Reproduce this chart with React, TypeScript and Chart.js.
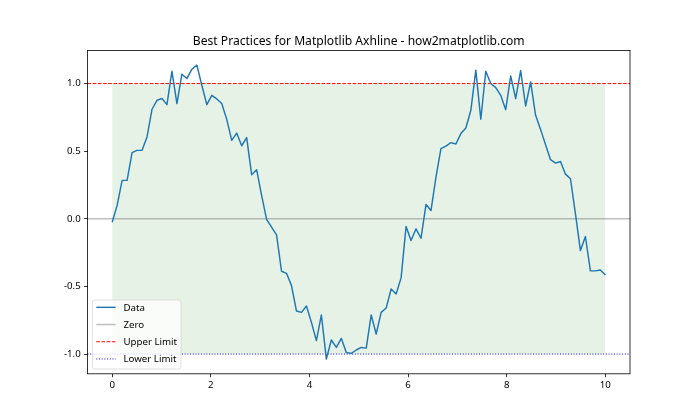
import React, { useEffect, useRef } from "react";
import { Chart, registerables } from "chart.js";

Chart.register(...registerables);

const TITLE = "Best Practices for Matplotlib Axhline - how2matplotlib.com";

// 100 samples, evenly spaced from xStart to xEnd
const xStart = 0;
const xEnd = 10;
const dataValues = [
  -0.025, 0.099, 0.284, 0.284, 0.489, 0.506, 0.506, 0.605, 0.81, 0.876,
  0.889, 0.844, 1.091, 0.852, 1.069, 1.037, 1.106, 1.136, 0.987, 0.844,
  0.913, 0.886, 0.852, 0.735, 0.58, 0.634, 0.54, 0.6, 0.326, 0.363,
  0.173, -0.005, -0.062, -0.119, -0.388, -0.403, -0.494, -0.682, -0.692, -0.645,
  -0.766, -0.901, -0.711, -1.037, -0.896, -0.951, -0.884, -0.988, -0.995, -0.97,
  -0.951, -0.956, -0.711, -0.852, -0.692, -0.66, -0.519, -0.556, -0.437, -0.057,
  -0.161, -0.074, -0.144, 0.106, 0.061, 0.308, 0.518, 0.538, 0.563, 0.553,
  0.63, 0.671, 0.802, 1.099, 0.736, 1.091, 1.0, 0.97, 0.913, 0.807,
  1.056, 0.889, 1.096, 0.834, 1.012, 0.765, 0.661, 0.548, 0.437, 0.412,
  0.424, 0.33, 0.296, 0.037, -0.235, -0.131, -0.385, -0.385, -0.378, -0.415,
];

const zeroLevel = 0;
const upperLimit = 1;
const lowerLimit = -1;

const xMin = -0.5;
const xMax = 10.5;
const yMin = -1.146;
const yMax = 1.245;

const xTicks = [0, 2, 4, 6, 8, 10];
const xTickLabels = ["0", "2", "4", "6", "8", "10"];
const yTicks = [-1, -0.5, 0, 0.5, 1];
const yTickLabels = ["-1.0", "-0.5", "0.0", "0.5", "1.0"];

const legendLabels = ["Data", "Zero", "Upper Limit", "Lower Limit"];

const FONT = "'Noto Sans', 'Open Sans', sans-serif";

const legendStyles = [
  { color: "#1f77b4", width: 1.46, dash: [] as number[] },
  { color: "rgba(128,128,128,0.5)", width: 1.46, dash: [] as number[] },
  { color: "#ff0000", width: 0.97, dash: [3.6, 1.6] },
  { color: "#0000ff", width: 0.97, dash: [1, 1.7] },
];

const decorPlugin = {
  id: "decor",
  afterDraw(chart: any) {
    const { ctx, chartArea: a } = chart;
    ctx.save();
    // spines
    ctx.strokeStyle = "#000";
    ctx.lineWidth = 0.8;
    ctx.setLineDash([]);
    ctx.strokeRect(a.left, a.top, a.right - a.left, a.bottom - a.top);

    // title
    ctx.fillStyle = "#000";
    ctx.font = `12.1px ${FONT}`;
    ctx.textAlign = "center";
    ctx.textBaseline = "alphabetic";
    ctx.fillText(TITLE, (a.left + a.right) / 2, a.top - 5.8);

    // legend
    const fs = 9.7;
    ctx.font = `${fs}px ${FONT}`;
    let maxW = 0;
    legendLabels.forEach((l) => {
      maxW = Math.max(maxW, ctx.measureText(l).width);
    });
    const rowH = 17.2;
    const boxH = 7.3 + rowH * (legendLabels.length - 1) + 10;
    const left = a.left + 4.86;
    const bottom = a.bottom - 4.86;
    const top = bottom - boxH;
    const width = 31.1 + maxW + 3.9;
    ctx.beginPath();
    (ctx as any).roundRect(left, top, width, boxH, 2);
    ctx.fillStyle = "rgba(255,255,255,0.8)";
    ctx.fill();
    ctx.strokeStyle = "rgba(204,204,204,0.8)";
    ctx.lineWidth = 0.8;
    ctx.stroke();

    legendLabels.forEach((label, k) => {
      const y = top + 7.3 + rowH * k;
      const st = legendStyles[k];
      ctx.beginPath();
      ctx.strokeStyle = st.color;
      ctx.lineWidth = st.width;
      ctx.setLineDash(st.dash);
      ctx.moveTo(left + 3.9, y);
      ctx.lineTo(left + 3.9 + 19.4, y);
      ctx.stroke();
      ctx.setLineDash([]);
      ctx.fillStyle = "#000";
      ctx.textAlign = "left";
      ctx.textBaseline = "middle";
      ctx.fillText(label, left + 31.1, y + 0.5);
    });
    ctx.restore();
  },
};

export default function App() {
  const ref = useRef<HTMLCanvasElement | null>(null);

  useEffect(() => {
    if (!ref.current) return;
    const n = dataValues.length;
    const points = dataValues.map((v, i) => ({
      x: xStart + ((xEnd - xStart) * i) / (n - 1),
      y: v,
    }));
    const hline = (y: number) => [
      { x: xMin, y },
      { x: xMax, y },
    ];

    const chart = new Chart(ref.current, {
      type: "line",
      data: {
        datasets: [
          {
            label: "Data",
            data: points,
            borderColor: "#1f77b4",
            borderWidth: 1.46,
            pointRadius: 0,
            fill: false,
            tension: 0,
            borderJoinStyle: "round",
            order: 0,
          },
          {
            label: "Zero",
            data: hline(zeroLevel),
            borderColor: "rgba(128,128,128,0.5)",
            borderWidth: 1.46,
            pointRadius: 0,
            fill: false,
            order: 1,
          },
          {
            label: "Upper Limit",
            data: hline(upperLimit),
            borderColor: "#ff0000",
            borderWidth: 0.97,
            borderDash: [3.6, 1.6],
            pointRadius: 0,
            fill: false,
            order: 1,
          },
          {
            label: "Lower Limit",
            data: hline(lowerLimit),
            borderColor: "#0000ff",
            borderWidth: 0.97,
            borderDash: [1, 1.7],
            pointRadius: 0,
            fill: false,
            order: 1,
          },
          {
            label: "bandTop",
            data: [
              { x: xStart, y: upperLimit },
              { x: xEnd, y: upperLimit },
            ],
            borderColor: "rgba(0,128,0,0.1)",
            borderWidth: 0,
            pointRadius: 0,
            fill: false,
            order: 3,
          },
          {
            label: "bandBottom",
            data: [
              { x: xStart, y: lowerLimit },
              { x: xEnd, y: lowerLimit },
            ],
            borderColor: "rgba(0,128,0,0.1)",
            borderWidth: 0,
            backgroundColor: "rgba(0,128,0,0.1)",
            pointRadius: 0,
            fill: "-1",
            order: 2,
          },
        ],
      },
      options: {
        responsive: false,
        animation: false,
        devicePixelRatio: 1,
        layout: { padding: { top: 50.4, right: 70, left: 0, bottom: 0 } },
        plugins: {
          legend: { display: false },
          tooltip: { enabled: false },
          title: { display: false },
        },
        scales: {
          x: {
            type: "linear",
            min: xMin,
            max: xMax,
            afterFit: (s: any) => {
              s.height = 46.2;
            },
            afterBuildTicks: (s: any) => {
              s.ticks = xTicks.map((v) => ({ value: v }));
            },
            ticks: {
              autoSkip: false,
              maxRotation: 0,
              padding: 2,
              color: "#000",
              font: { family: FONT, size: 9.7 },
              callback: (v: any) => {
                const i = xTicks.indexOf(Number(v));
                return i >= 0 ? xTickLabels[i] : "";
              },
            },
            grid: {
              drawOnChartArea: false,
              drawTicks: true,
              tickLength: 3.4,
              color: "#000",
              lineWidth: 0.8,
            },
            border: { display: false },
          },
          y: {
            type: "linear",
            min: yMin,
            max: yMax,
            afterFit: (s: any) => {
              s.width = 87.5;
            },
            afterBuildTicks: (s: any) => {
              s.ticks = yTicks.map((v) => ({ value: v }));
            },
            ticks: {
              autoSkip: false,
              padding: 3.4,
              color: "#000",
              font: { family: FONT, size: 9.7 },
              callback: (v: any) => {
                const i = yTicks.indexOf(Number(v));
                return i >= 0 ? yTickLabels[i] : "";
              },
            },
            grid: {
              drawOnChartArea: false,
              drawTicks: true,
              tickLength: 3.4,
              color: "#000",
              lineWidth: 0.8,
            },
            border: { display: false },
          },
        },
      },
      plugins: [decorPlugin],
    } as any);

    return () => chart.destroy();
  }, []);

  return (
    <div style={{ position: "absolute", left: 0, top: 0, width: 700, height: 420, background: "#fff" }}>
      <canvas ref={ref} width={700} height={420} />
    </div>
  );
}
